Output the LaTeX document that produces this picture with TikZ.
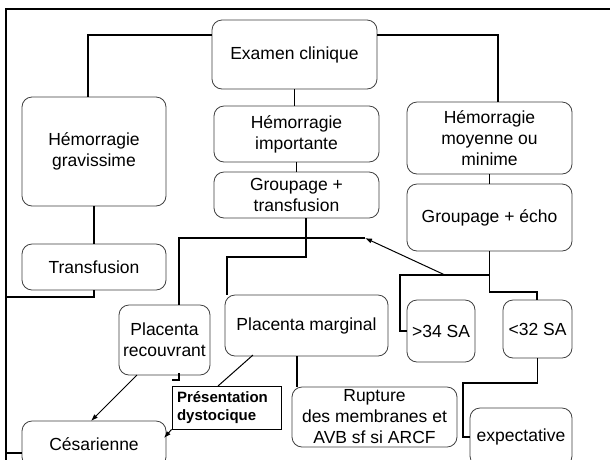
\documentclass[tikz,border=0pt]{standalone}
\usepackage{fontspec}
\setmainfont{Liberation Sans}
\usetikzlibrary{arrows.meta}
\begin{document}
\begin{tikzpicture}[x=1pt,y=-1pt,
  box/.style={draw=black!75, line width=0.8pt, rounded corners=10pt, align=center, inner sep=0pt, font=\fontsize{17.5}{21}\selectfont},
  conn/.style={line width=1.6pt, line join=miter},
  arr/.style={line width=1pt, -{Latex[length=7pt,width=5pt]}},
  frame/.style={line width=2pt}]
\useasboundingbox (0,0) rectangle (610,459);
\fill[white] (0,0) rectangle (610,459);
\clip (0,0) rectangle (610,459);

% nodes
\node[box, minimum width=165pt, minimum height=69pt] (exam) at (294.5,54.5) {Examen clinique};
\node[box, minimum width=144pt, minimum height=109pt] (grav) at (94,151.5) {Hémorragie\\gravissime};
\node[box, minimum width=165pt, minimum height=56pt] (imp) at (296.5,134) {Hémorragie\\importante};
\node[box, minimum width=165pt, minimum height=46pt] (gtr) at (296.5,195) {Groupage +\\transfusion};
\node[box, minimum width=165pt, minimum height=72pt] (moy) at (489.5,138) {Hémorragie\\moyenne ou\\minime};
\node[box, minimum width=165pt, minimum height=67pt] (gecho) at (489.5,217.5) {Groupage + écho};
\node[box, minimum width=144pt, minimum height=46pt] (transf) at (94,267) {Transfusion};
\node[box, minimum width=91pt, minimum height=70pt] (recouv) at (164.5,340) {Placenta\\recouvrant};
\node[box, minimum width=163pt, minimum height=61pt] (marg) at (306.5,325.5) {Placenta marginal};
\node[box, minimum width=68pt, minimum height=62pt] (s34) at (441,331) {>34 SA};
\node[box, minimum width=69pt, minimum height=58pt] (s32) at (537.5,329) {<32 SA};
\node[box, minimum width=165pt, minimum height=60pt] (rupt) at (374.5,417) {Rupture\\des membranes et\\AVB sf si ARCF};
\node[box, minimum width=102pt, minimum height=58pt] (expect) at (521,437) {expectative};
\node[box, minimum width=144pt, minimum height=46pt] (cesar) at (94,444) {Césarienne};
\node[draw=black, line width=0.8pt, minimum width=109pt, minimum height=43pt, inner sep=0pt, text width=99pt, align=left, font=\bfseries\fontsize{15}{18}\selectfont] (pres) at (226.5,407.5) {Présentation\\dystocique};

% junction coordinates
\coordinate (j1) at (88,35);
\coordinate (j2) at (498,35);
\coordinate (j3) at (6,297);
\coordinate (j4) at (6,453);
\coordinate (j5) at (306,257);
\coordinate (j6) at (227,257);
\coordinate (j7) at (179,238);
\coordinate (j8) at (365,238);
\coordinate (j9) at (445,275);
\coordinate (j11) at (400,275);
\coordinate (j12) at (537,292);
\coordinate (j13) at (463,383);
\coordinate (j14) at (297,370);
\coordinate (pm) at (253,355);
\coordinate (pp) at (218,386);
\coordinate (pc) at (164,438);
\coordinate (rc) at (137,375);
\coordinate (cc) at (91,421);
\coordinate (b1) at (179,373);
\coordinate (b2) at (179,380);
\coordinate (b3) at (172,380);

% frame
\draw[frame] (612,9) -- (6,9) -- (6,462);

% connectors
\draw[conn] (exam.west |- j1) -- (j1) -- (j1 |- grav.north);
\draw[conn] (exam.east |- j2) -- (j2) -- (j2 |- moy.north);
\draw[conn] (exam.south) -- (exam.south |- imp.north);
\draw[conn] (imp.south) -- (imp.south |- gtr.north);
\draw[conn] (moy.south) -- (moy.south |- gecho.north);
\draw[conn] (grav.south) -- (grav.south |- transf.north);
\draw[conn] (transf.south) -- (transf.south |- j3) -- (j3);
\draw[conn] (cesar.west |- j4) -- (j4);
\draw[conn] (gtr.south -| j5) -- (j5) -- (j6) -- (j6 |- marg.north);
\draw[conn] (j7 |- recouv.north) -- (j7) -- (j8);
\draw[arr] (j9) -- (j8);
\draw[conn] (gecho.south) -- (gecho.south |- j11) -- (j11) -- (j11 |- s34.west) -- (s34.west);
\draw[conn] (gecho.south |- j11) -- (gecho.south |- j12) -- (j12) -- (j12 |- s32.north);
\draw[conn] (s32.south) -- (s32.south |- j13) -- (j13) -- (j13 |- expect.west) -- (expect.west);
\draw[conn] (marg.south -| j14) -- (j14 |- rupt.north);
\draw[line width=1pt] (pm) -- (pp);
\draw[arr] (pres.south west) -- (pc);
\draw[arr] (rc) -- (cc);
\draw[conn] (b1) -- (b2) -- (b3);
\end{tikzpicture}
\end{document}
